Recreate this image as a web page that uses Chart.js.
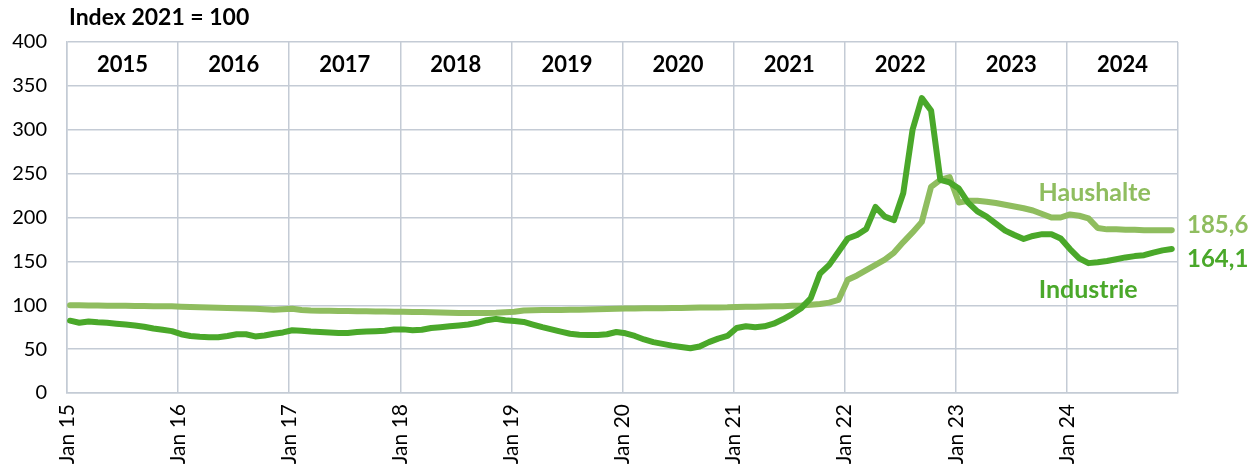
<!DOCTYPE html>
<html>
<head>
<meta charset="utf-8">
<script src="https://cdn.jsdelivr.net/npm/chart.js@4.4.1/dist/chart.umd.min.js"></script>
<style>
  html, body { margin: 0; padding: 0; background: #fff; }
  canvas { display: block; }
</style>
</head>
<body>
<canvas id="price-chart" width="1260" height="470"></canvas>
<script>
// monthly index values, Jan 2015 .. Dec 2024 (2021 = 100)
const yearLabels = ['2015', '2016', '2017', '2018', '2019', '2020', '2021', '2022', '2023', '2024'];
const tickLabels = ['Jan 15', 'Jan 16', 'Jan 17', 'Jan 18', 'Jan 19', 'Jan 20', 'Jan 21', 'Jan 22', 'Jan 23', 'Jan 24'];

const industrie = [
    82.4, 80, 81.5, 80.5, 80, 79, 78, 77, 75.5, 73.5, 72, 70.5,
    67, 65, 64, 63.5, 63.5, 65, 67, 67, 64.5, 65.5, 67.5, 69,
    71.5, 71, 70, 69.5, 69, 68.5, 68.5, 69.5, 70, 70.5, 71, 72.5,
    72.5, 71.5, 72, 74, 75, 76, 77, 78, 80, 83, 84.5, 83,
    82, 81, 78, 75, 72.5, 70, 67.5, 66.5, 66, 66, 67, 69.5,
    68, 65, 61, 58, 56, 54, 52.5, 51, 53, 58, 62, 65,
    74, 76, 75, 76, 79, 84, 90, 97, 108, 136, 146, 161,
    176, 180, 187, 212, 201, 197, 228, 300, 336, 322, 243, 240,
    233, 217, 207, 201, 193, 185, 180, 175.5, 179, 181, 181, 176,
    164, 153.5, 148, 149, 150.5, 152.5, 154.5, 156, 157, 160, 162.5, 164.1
];

const haushalte = [
    100, 100, 99.8, 99.6, 99.5, 99.4, 99.3, 99.2, 99.1, 99, 98.9, 98.8,
    98.3, 98, 97.8, 97.5, 97.2, 97, 96.7, 96.4, 96, 95.5, 95, 95.5,
    96, 94.5, 94, 93.8, 93.6, 93.5, 93.4, 93.3, 93.2, 93, 92.8, 92.6,
    92.5, 92.4, 92.2, 92, 91.8, 91.5, 91.3, 91.2, 91.2, 91.3, 91.5, 92,
    92.5, 94, 94.3, 94.5, 94.6, 94.7, 94.8, 95, 95.2, 95.5, 95.8, 96,
    96.2, 96.4, 96.5, 96.6, 96.7, 96.8, 97, 97.2, 97.3, 97.4, 97.5, 97.6,
    98, 98.2, 98.4, 98.6, 98.8, 99, 99.3, 99.7, 100.5, 101.5, 103, 106,
    129, 134, 140, 146, 152, 160, 172, 183, 195, 235, 243, 246,
    217, 219, 219, 218, 216.5, 214.5, 212.5, 210.5, 208, 204, 200, 200,
    203.5, 202, 199, 188, 186.5, 186.5, 186, 186, 185.5, 185.5, 185.5, 185.6
];

const DARK_GREEN = '#4aa82a';
const LIGHT_GREEN = '#8fbd5f';
const GRID = '#c4cbd5';
const FONT = 'Lato, "Open Sans", sans-serif';
const MONTH_SHIFT = 0.33; // points sit a bit into their month

function toPoints(values) {
    return values.map((v, i) => ({ x: i + MONTH_SHIFT, y: v }));
}

function fmt(v) {
    return v.toFixed(1).replace('.', ',');
}

// title, year header row, series names and last values
const textPlugin = {
    id: 'textPlugin',
    afterDraw(chart) {
        const ctx = chart.ctx;
        const xs = chart.scales.x;
        const ys = chart.scales.y;
        ctx.save();
        ctx.textBaseline = 'middle';

        ctx.fillStyle = '#000';
        ctx.textAlign = 'left';
        ctx.font = 'bold 23px ' + FONT;
        ctx.fillText('Index 2021 = 100', 69, 18);

        ctx.textAlign = 'center';
        ctx.font = 'bold 22px ' + FONT;
        yearLabels.forEach((y, k) => {
            ctx.fillText(y, xs.getPixelForValue(k * 12 + 6), ys.getPixelForValue(375) + 1);
        });

        ctx.font = 'bold 25px ' + FONT;
        ctx.fillStyle = LIGHT_GREEN;
        ctx.fillText('Haushalte', xs.getPixelForValue(111), ys.getPixelForValue(228));
        ctx.fillStyle = DARK_GREEN;
        ctx.fillText('Industrie', xs.getPixelForValue(110.3), ys.getPixelForValue(117));

        ctx.textAlign = 'left';
        ctx.font = 'bold 24px ' + FONT;
        const lastH = haushalte[haushalte.length - 1];
        const lastI = industrie[industrie.length - 1];
        ctx.fillStyle = LIGHT_GREEN;
        ctx.fillText(fmt(lastH), chart.chartArea.right + 9, ys.getPixelForValue(lastH) - 5);
        ctx.fillStyle = DARK_GREEN;
        ctx.fillText(fmt(lastI), chart.chartArea.right + 9, ys.getPixelForValue(lastI) + 10);
        ctx.restore();
    }
};

const ctx = document.getElementById('price-chart');
new Chart(ctx, {
    type: 'line',
    data: {
        datasets: [
            {
                label: 'Industrie',
                data: toPoints(industrie),
                borderColor: DARK_GREEN,
                borderWidth: 6,
                pointRadius: 0,
                tension: 0,
                borderJoinStyle: 'round',
                borderCapStyle: 'round',
                fill: false
            },
            {
                label: 'Haushalte',
                data: toPoints(haushalte),
                borderColor: LIGHT_GREEN,
                borderWidth: 6,
                pointRadius: 0,
                tension: 0,
                borderJoinStyle: 'round',
                borderCapStyle: 'round',
                fill: false
            }
        ]
    },
    options: {
        responsive: false,
        animation: false,
        devicePixelRatio: 1,
        layout: { padding: { top: 42, right: 82, left: 0, bottom: 0 } },
        plugins: {
            legend: { display: false },
            tooltip: { enabled: false }
        },
        scales: {
            x: {
                type: 'linear',
                min: 0,
                max: 120,
                afterFit(scale) { scale.height = 77; },
                afterBuildTicks(scale) {
                    scale.ticks = [];
                    for (let v = 0; v <= 120; v += 12) scale.ticks.push({ value: v });
                },
                grid: { color: GRID, lineWidth: 1.5, drawTicks: false },
                border: { color: GRID, width: 1.5 },
                ticks: {
                    minRotation: 90,
                    maxRotation: 90,
                    padding: 11,
                    color: '#000',
                    font: { family: FONT, size: 21 },
                    callback: (v) => tickLabels[v / 12] || ''
                }
            },
            y: {
                min: 0,
                max: 400,
                afterFit(scale) { scale.width = 67; },
                grid: { color: GRID, lineWidth: 1.5, drawTicks: false },
                border: { color: GRID, width: 1.5 },
                ticks: {
                    stepSize: 50,
                    padding: 20,
                    color: '#000',
                    font: { family: FONT, size: 20 }
                }
            }
        }
    },
    plugins: [textPlugin]
});
</script>
</body>
</html>
